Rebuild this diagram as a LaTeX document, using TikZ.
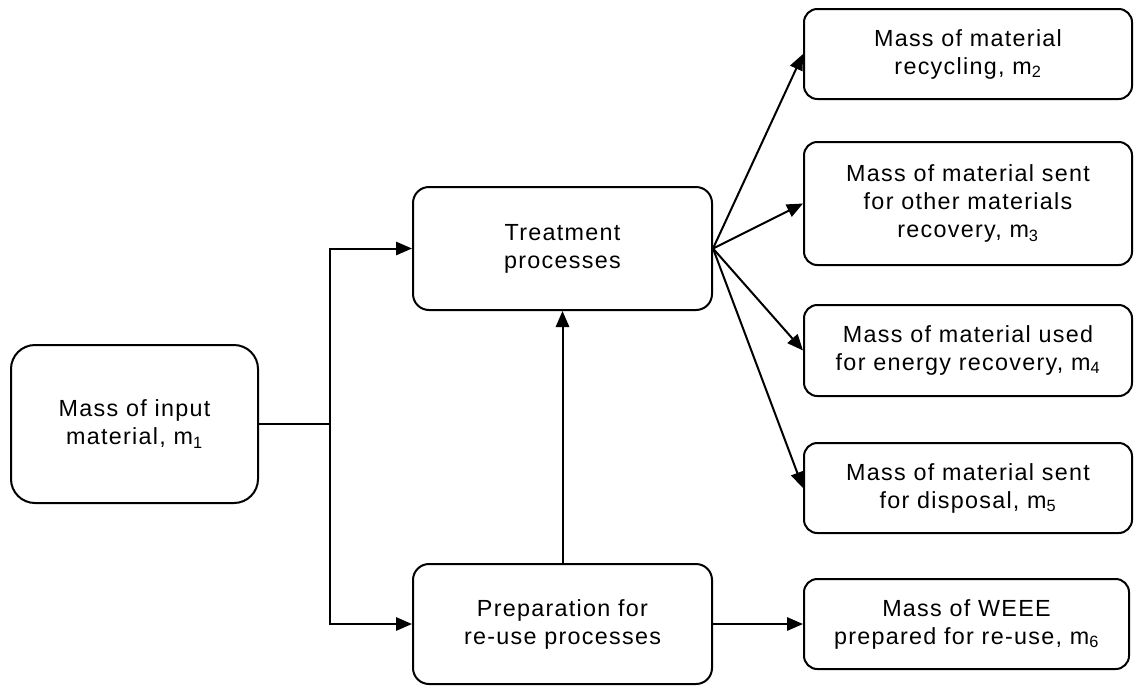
\documentclass[tikz,border=0pt]{standalone}
\usepackage{fontspec}
\setmainfont{Liberation Sans}[LetterSpace=5.5]
\usepackage{tikz}
\usetikzlibrary{positioning, arrows.meta, calc}

\begin{document}
\begin{tikzpicture}[x=0.75pt, y=-0.75pt]
    \tikzset{
        mass box/.style={
                draw=black, line width=1.5pt, rounded corners=10pt, align=center,
                font=\fontsize{17.5}{21}\selectfont, inner sep=0pt
            },
        process box/.style={
                mass box, rounded corners=12pt
            },
        flow arrow/.style={
                -{Triangle[length=12pt, width=10pt]}, line width=1.5pt
            }
    }
    \useasboundingbox (0,0) rectangle (1134,686);

    \node[process box, rounded corners=18pt, minimum width=247*0.75pt, minimum height=158*0.75pt] (input) at (134.5, 424) {Mass of input\\material, m\textsubscript{1}};
    \node[process box, minimum width=299*0.75pt, minimum height=123*0.75pt] (treat) at (562.5, 248.5) {Treatment\\processes};
    \node[process box, minimum width=299*0.75pt, minimum height=120*0.75pt] (prep) at (562.5, 624) {Preparation for\\re-use processes};

    \node[mass box, minimum width=328*0.75pt, minimum height=90*0.75pt] (recyc) at (968, 54) {Mass of material\\recycling, m\textsubscript{2}};
    \node[mass box, minimum width=328*0.75pt, minimum height=123*0.75pt] (other) at (968, 203.5) {Mass of material sent\\for other materials\\recovery, m\textsubscript{3}};
    \node[mass box, minimum width=328*0.75pt, minimum height=91*0.75pt] (energy) at (968, 350.5) {Mass of material used\\for energy recovery, m\textsubscript{4}};
    \node[mass box, minimum width=328*0.75pt, minimum height=90*0.75pt] (disp) at (968, 488) {Mass of material sent\\for disposal, m\textsubscript{5}};
    \node[mass box, minimum width=325*0.75pt, minimum height=90*0.75pt] (weee) at (966.5, 624) {Mass of WEEE\\prepared for re-use, m\textsubscript{6}};

    % Split of the input
    \coordinate (split) at (330, 424);
    \draw[line width=1.5pt] (input.east) -- (split);
    \draw[flow arrow] (split) |- (treat.west);
    \draw[flow arrow] (split) |- (prep.west);
    \draw[flow arrow] (prep.north) -- (treat.south);

    % Outputs of treatment
    \foreach \out in {recyc, other, energy, disp}
        \draw[flow arrow] (treat.east) -- (\out.west);
    \draw[flow arrow] (prep.east) -- (weee.west);
\end{tikzpicture}
\end{document}
